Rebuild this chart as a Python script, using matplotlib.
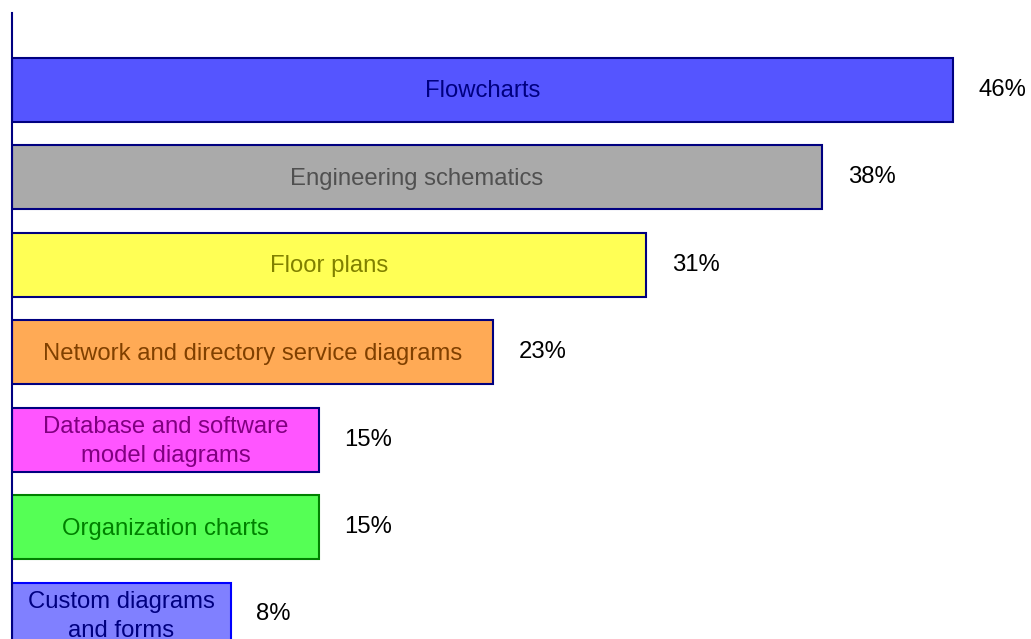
import matplotlib
matplotlib.use("Agg")
import matplotlib.pyplot as plt

# Data (top to bottom)
categories = [
    "Flowcharts",
    "Engineering schematics",
    "Floor plans",
    "Network and directory service diagrams",
    "Database and software\nmodel diagrams",
    "Organization charts",
    "Custom diagrams\nand forms",
]
bar_lengths = [46, 39.6, 31, 23.5, 15, 15, 10.7]
value_labels = ["46%", "38%", "31%", "23%", "15%", "15%", "8%"]

fill_colors = ["#5555FF", "#AAAAAA", "#FFFF55", "#FFAA55", "#FF55FF", "#55FF55", "#8080FF"]
text_colors = ["#000080", "#505050", "#808000", "#804000", "#800080", "#008000", "#000080"]
edge_colors = ["#000080", "#000080", "#000080", "#000080", "#000080", "#008000", "#0000FF"]

plt.rcParams["font.family"] = ["Liberation Sans", "DejaVu Sans"]

W, H = 1031, 639
fig = plt.figure(figsize=(W / 100, H / 100), dpi=100)
left_px = 12
ax = fig.add_axes([left_px / W, 0, 1 - left_px / W, 1])

px_per_unit = 20.46
spacing_px = 87.5
first_center_px = 89.5

ypos = list(range(len(categories)))
ax.barh(ypos, bar_lengths, height=64 / spacing_px, color=fill_colors,
        edgecolor=edge_colors, linewidth=1.5)

for y, length, cat, lab, tc in zip(ypos, bar_lengths, categories, value_labels, text_colors):
    ax.text(length / 2, y + 0.02, cat, ha="center", va="center", color=tc,
            fontsize=17.2, linespacing=1.4)
    ax.text(length + 1.25, y, lab, ha="left", va="center", color="black", fontsize=17.2)

ax.set_xlim(0, (W - left_px) / px_per_unit)
ax.set_ylim((H - first_center_px) / spacing_px, -first_center_px / spacing_px)

for s in ["top", "right", "bottom"]:
    ax.spines[s].set_visible(False)
ax.spines["left"].set_color("#000080")
ax.spines["left"].set_linewidth(1.5)
ax.spines["left"].set_bounds(ax.get_ylim()[0], (13 - first_center_px) / spacing_px)
ax.set_xticks([])
ax.set_yticks([])

fig.savefig("out.png", dpi=100)
